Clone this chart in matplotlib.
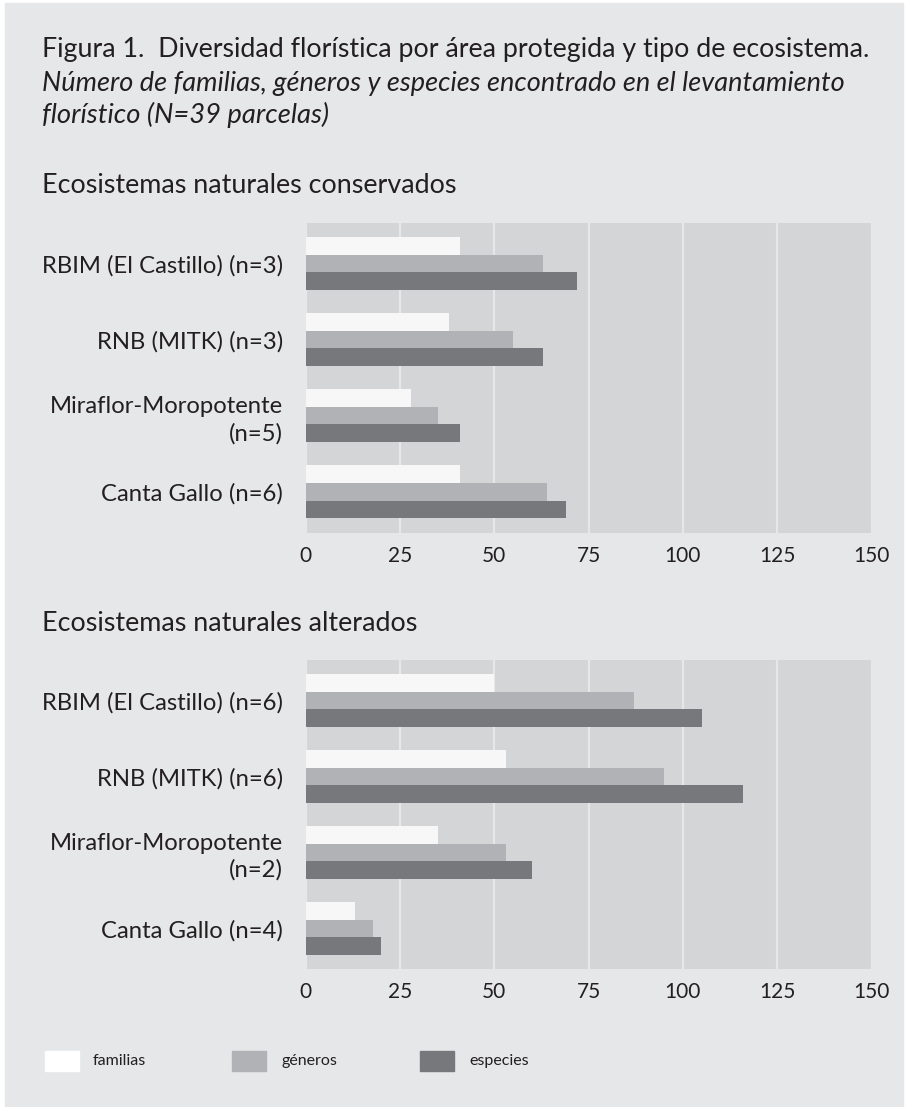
import numpy as np
import matplotlib
matplotlib.use("Agg")
import matplotlib.pyplot as plt
from matplotlib.patches import Rectangle

# data
sitios_cons = ["RBIM (El Castillo) (n=3)", "RNB (MITK) (n=3)",
               "Miraflor-Moropotente\n(n=5)", "Canta Gallo (n=6)"]
sitios_alt = ["RBIM (El Castillo) (n=6)", "RNB (MITK) (n=6)",
              "Miraflor-Moropotente\n(n=2)", "Canta Gallo (n=4)"]
series = ["familias", "géneros", "especies"]

cons_familias = [41, 38, 28, 41]
cons_generos = [63, 55, 35, 64]
cons_especies = [72, 63, 41, 69]

alt_familias = [50, 53, 35, 13]
alt_generos = [87, 95, 53, 18]
alt_especies = [105, 116, 60, 20]

xticks = [0, 25, 50, 75, 100, 125, 150]

BG = "#e6e7e8"
PLOT_BG = "#d4d5d7"
COLORS = ["#f7f7f7", "#b1b2b5", "#77787b"]
INK = "#231f20"
plt.rcParams["font.family"] = ["Lato", "DejaVu Sans"]

W, H = 905, 1107
fig = plt.figure(figsize=(W / 100, H / 100), dpi=100)
fig.patch.set_facecolor("white")
fig.patches.append(Rectangle((4.5 / W, 0), (902.5 - 4.5) / W, 1 - 3 / H,
                             transform=fig.transFigure, color=BG, zorder=-10))


def fy(px):
    return 1 - px / H


def fit(t, width_px):
    r = fig.canvas.get_renderer()
    w = t.get_window_extent(r).width
    return t.get_fontsize() * width_px / w


def panel(top, bottom, labels, vals):
    ax = fig.add_axes([305.5 / W, fy(bottom), (871.6 - 305.5) / W, (bottom - top) / H])
    ax.set_facecolor(PLOT_BG)
    y = np.arange(len(labels))
    h = 0.234
    for i, (v, c) in enumerate(zip(vals, COLORS)):
        ax.barh(y + (i - 1) * h, v, height=h, color=c, edgecolor="none", zorder=3)
    ax.set_xlim(0, 150)
    ax.set_ylim(3.538, -0.538)
    ax.set_xticks(xticks)
    ax.set_yticks(y)
    ax.set_yticklabels(labels, ha="right", multialignment="right", linespacing=1.3)
    ax.grid(axis="x", color=BG, lw=1.6, zorder=1)
    ax.set_axisbelow(True)
    ax.tick_params(length=0, labelsize=15, colors=INK)
    ax.tick_params(axis="x", pad=9.5)
    ax.tick_params(axis="y", pad=16)
    for s in ax.spines.values():
        s.set_visible(False)
    return ax


ax1 = panel(222.7, 532.5, sitios_cons, [cons_familias, cons_generos, cons_especies])
ax2 = panel(659.7, 969.3, sitios_alt, [alt_familias, alt_generos, alt_especies])

t1 = fig.text(41.5 / W, fy(57), "Figura 1.  Diversidad florística por área protegida y tipo de ecosistema.",
              fontsize=17, color=INK, va="baseline")
t2 = fig.text(41.5 / W, fy(91), "Número de familias, géneros y especies encontrado en el levantamiento",
              fontsize=17, color=INK, va="baseline", style="italic")
t3 = fig.text(41.5 / W, fy(123), "florístico (N=39 parcelas)",
              fontsize=17, color=INK, va="baseline", style="italic")
h1 = fig.text(41.5 / W, fy(193), "Ecosistemas naturales conservados",
              fontsize=17, color=INK, va="baseline")
h2 = fig.text(41.5 / W, fy(631), "Ecosistemas naturales alterados",
              fontsize=17, color=INK, va="baseline")
fig.canvas.draw()
t1.set_fontsize(fit(t1, 827))
t2.set_fontsize(fit(t2, 802))
t3.set_fontsize(fit(t3, 287))
h1.set_fontsize(fit(h1, 414))
h2.set_fontsize(h1.get_fontsize())

# category labels: "RBIM (El Castillo) (n=3)" runs from about x=40 to x=282
lab_size = fit(ax1.get_yticklabels()[0], 242)
for ax in (ax1, ax2):
    ax.tick_params(axis="y", labelsize=lab_size)

# legend
for x0, tx, name, c in zip([44.8, 232, 420], [92.6, 281, 469], series, COLORS):
    fig.patches.append(Rectangle((x0 / W, fy(1071)), 34 / W, 20 / H,
                                 transform=fig.transFigure, color=c if c != COLORS[0] else "white"))
    fig.text(tx / W, fy(1061), name, fontsize=11.5, color=INK, va="center")

fig.savefig("out.png", dpi=100, facecolor=fig.get_facecolor())
